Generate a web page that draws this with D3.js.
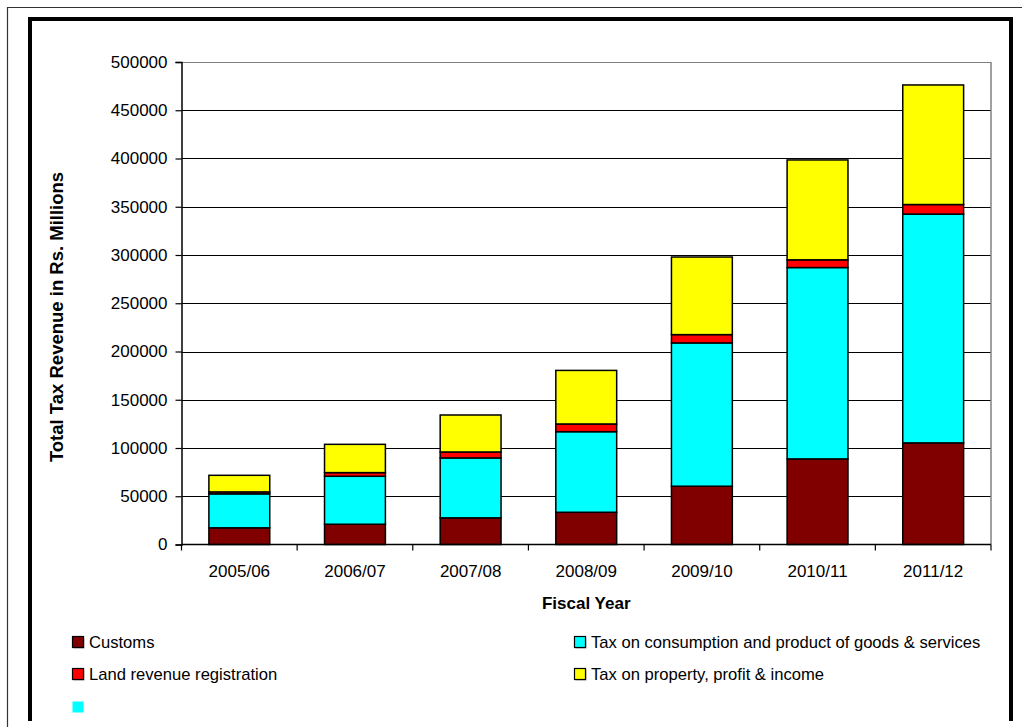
<!DOCTYPE html>
<html>
<head>
<meta charset="utf-8">
<script src="https://cdn.jsdelivr.net/npm/d3@7"></script>
<style>
  html, body { margin: 0; padding: 0; background: #fff; }
  svg { display: block; }
  text { font-family: "Liberation Sans", Arial, sans-serif; fill: #000; }
</style>
</head>
<body>
<svg id="chart" width="1022" height="727"></svg>
<script>
// ---- Data (Rs. Millions) ----
const years = ["2005/06", "2006/07", "2007/08", "2008/09", "2009/10", "2010/11", "2011/12"];
const customs     = [17300, 21000, 27600, 33400, 60400, 88700, 105300];
const consumption = [35200, 49700, 62100, 83500, 148500, 198300, 237100];
const landRevenue = [2000, 3800, 6200, 8000, 8600, 8000, 9900];
const property    = [17200, 29300, 38300, 55500, 80400, 103500, 123900];
const yTicks = [0, 50000, 100000, 150000, 200000, 250000, 300000, 350000, 400000, 450000, 500000];

const seriesNames = ["Customs", "Tax on consumption and product of goods & services",
                     "Land revenue registration", "Tax on property, profit & income"];
const seriesColors = ["#800000", "#00FFFF", "#FF0000", "#FFFF00"];
const seriesKeys = ["customs", "consumption", "land", "property"];

const table = years.map((y, i) => ({
  year: y, customs: customs[i], consumption: consumption[i],
  land: landRevenue[i], property: property[i]
}));

const svg = d3.select("#chart");

// ---- Frame ----
svg.append("line").attr("x1", 7).attr("y1", 7.5).attr("x2", 1022).attr("y2", 7.5)
  .attr("stroke", "#333").attr("stroke-width", 1.2);
svg.append("rect").attr("x", 30).attr("y", 19).attr("width", 981).attr("height", 800)
  .attr("fill", "none").attr("stroke", "#000").attr("stroke-width", 4);
svg.append("rect").attr("x", 0).attr("y", 721).attr("width", 1022).attr("height", 10).attr("fill", "#fff");
svg.append("line").attr("x1", 7.5).attr("y1", 7).attr("x2", 7.5).attr("y2", 727)
  .attr("stroke", "#333").attr("stroke-width", 1.2);

// ---- Scales ----
const plotL = 181.5, plotR = 991, plotT = 62, plotB = 544.5;
const x = d3.scaleBand().domain(years).range([plotL, plotR]).paddingInner(0).paddingOuter(0);
const y = d3.scaleLinear().domain([0, 500000]).range([plotB, plotT]);
const barW = x.bandwidth() / 1.9;

// Gridlines
svg.append("g").selectAll("line").data(yTicks.filter(t => t > 0 && t < 500000)).join("line")
  .attr("x1", plotL).attr("x2", plotR)
  .attr("y1", d => Math.round(y(d)) + 0.5).attr("y2", d => Math.round(y(d)) + 0.5)
  .attr("stroke", "#000").attr("stroke-width", 1.2);

// Plot area border (gray)
svg.append("line").attr("x1", plotL).attr("x2", plotR).attr("y1", plotT + 0.5).attr("y2", plotT + 0.5)
  .attr("stroke", "#808080").attr("stroke-width", 1.2);
svg.append("line").attr("x1", plotR).attr("x2", plotR).attr("y1", plotT).attr("y2", plotB)
  .attr("stroke", "#808080").attr("stroke-width", 1.5);

// ---- Stacked bars ----
const stack = d3.stack().keys(seriesKeys)(table);
svg.append("g").selectAll("g").data(stack).join("g")
  .attr("fill", (d, i) => seriesColors[i])
  .selectAll("rect").data(d => d).join("rect")
  .attr("x", d => x(d.data.year) + (x.bandwidth() - barW) / 2)
  .attr("width", barW)
  .attr("y", d => y(d[1]))
  .attr("height", d => y(d[0]) - y(d[1]))
  .attr("stroke", "#000").attr("stroke-width", 1.5);

// ---- Axes ----
const yAxis = d3.axisLeft(y).tickValues(yTicks).tickSize(6).tickPadding(8).tickFormat(d3.format("d"));
const gy = svg.append("g").attr("transform", `translate(${plotL},0)`).call(yAxis);
gy.select(".domain").attr("stroke", "#000").attr("stroke-width", 1.5);
gy.selectAll(".tick line").attr("stroke", "#000").attr("stroke-width", 1.2);
gy.selectAll(".tick text").attr("font-size", 17).attr("font-family", "Liberation Sans, Arial, sans-serif")
  .attr("fill", "#000");

const gx = svg.append("g").attr("transform", `translate(0,${plotB})`)
  .call(d3.axisBottom(x).tickSize(0).tickPadding(0));
gx.select(".domain").remove();
gx.selectAll(".tick text").attr("font-size", 17).attr("font-family", "Liberation Sans, Arial, sans-serif")
  .attr("fill", "#000").attr("dy", null).attr("y", 32);

// x boundary ticks
const bounds = years.map(yr => x(yr)).concat([plotR]);
svg.append("g").selectAll("line").data(bounds).join("line")
  .attr("x1", d => d).attr("x2", d => d).attr("y1", plotB).attr("y2", plotB + 6)
  .attr("stroke", "#000").attr("stroke-width", 1.2);
svg.append("line").attr("x1", plotL).attr("x2", plotR).attr("y1", plotB).attr("y2", plotB)
  .attr("stroke", "#000").attr("stroke-width", 1.5);

// Axis titles
svg.append("text").attr("x", (plotL + plotR) / 2).attr("y", 609)
  .attr("text-anchor", "middle").attr("font-size", 17).attr("font-weight", "bold")
  .text("Fiscal Year");
svg.append("text").attr("transform", "translate(63,317) rotate(-90)")
  .attr("text-anchor", "middle").attr("font-size", 18.5).attr("font-weight", "bold")
  .text("Total Tax Revenue in Rs. Millions");

// ---- Legend ----
const legendItems = [
  { name: seriesNames[0], color: seriesColors[0], col: 0, row: 0, border: true },
  { name: seriesNames[1], color: seriesColors[1], col: 1, row: 0, border: true },
  { name: seriesNames[2], color: seriesColors[2], col: 0, row: 1, border: true },
  { name: seriesNames[3], color: seriesColors[3], col: 1, row: 1, border: true },
  { name: "", color: "#00FFFF", col: 0, row: 2, border: false }
];
const colX = [72, 574], rowY = [636, 668, 701];
const lg = svg.append("g").selectAll("g").data(legendItems).join("g")
  .attr("transform", d => `translate(${colX[d.col]},${rowY[d.row]})`);
lg.filter(d => d.border).append("rect").attr("x", 1.5).attr("y", 1.5).attr("width", 11).attr("height", 11)
  .attr("fill", "#aaa");
lg.append("rect").attr("x", 0.5).attr("y", 0.5).attr("width", 11).attr("height", 11)
  .attr("fill", d => d.color)
  .attr("stroke", d => d.border ? "#000" : "none").attr("stroke-width", 1.2);
lg.append("text").attr("x", 17).attr("y", 12).attr("font-size", 16.6).text(d => d.name);
</script>
</body>
</html>
